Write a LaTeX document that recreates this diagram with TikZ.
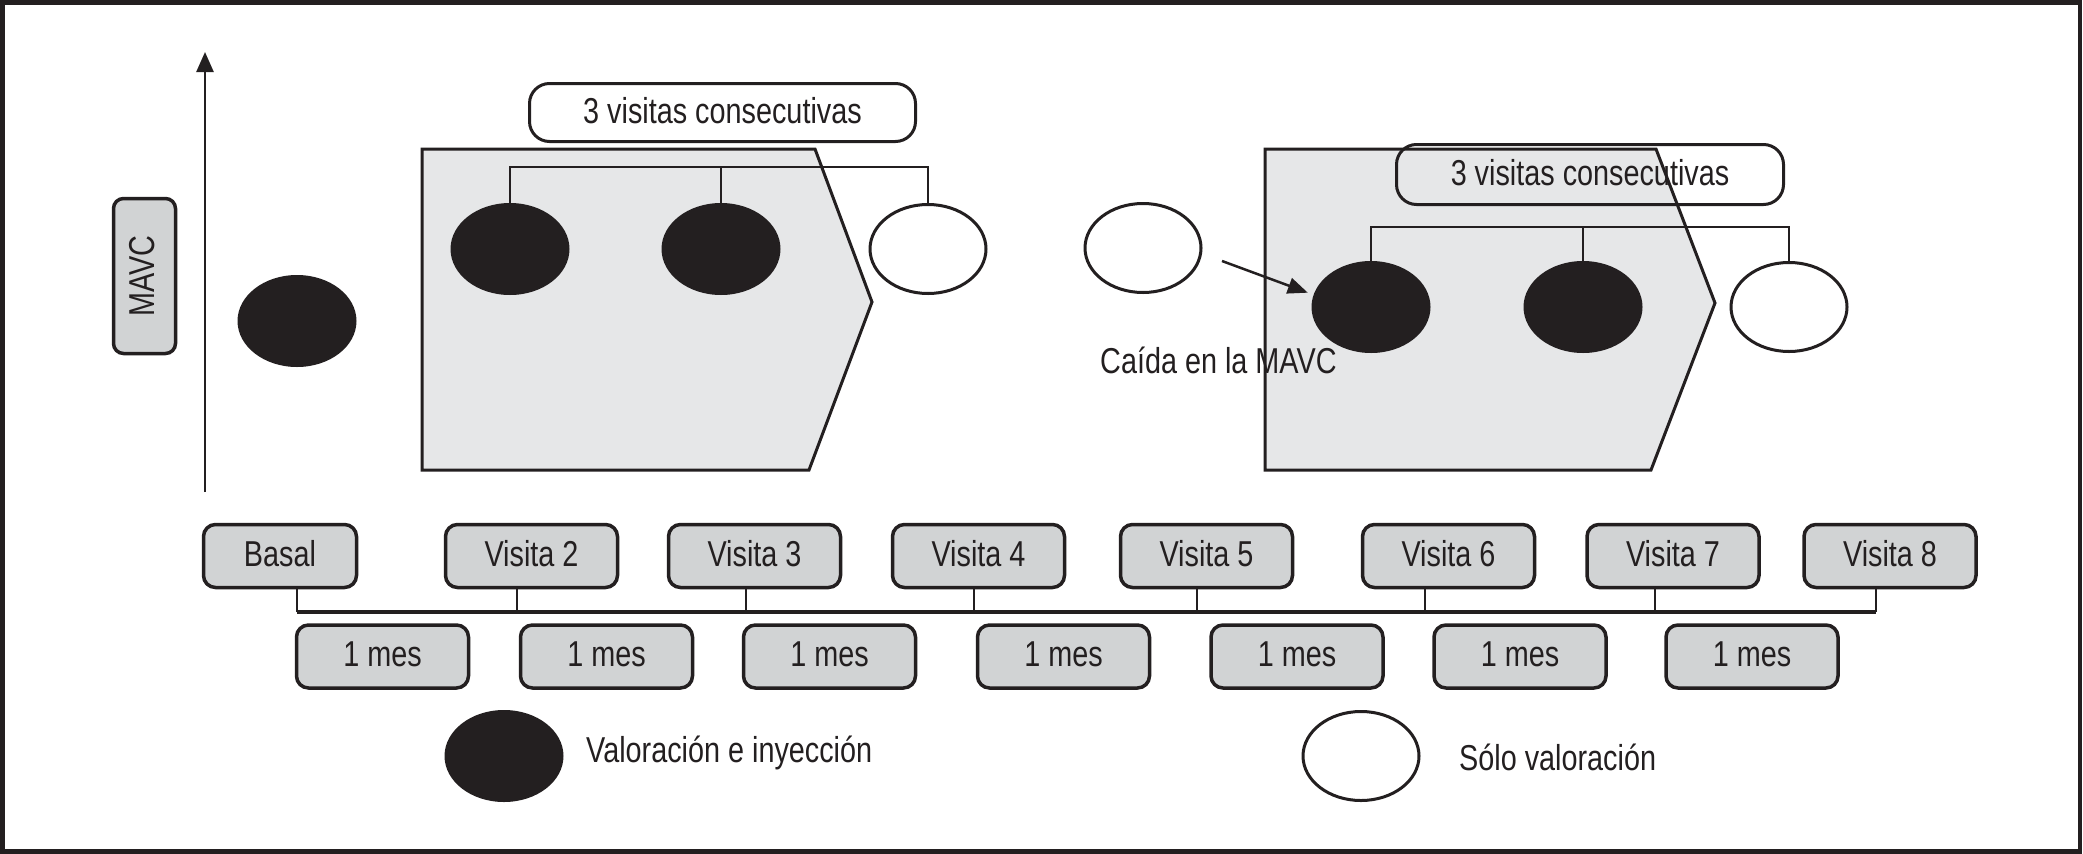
\documentclass[tikz,border=0pt]{standalone}
\usepackage{fontspec}
\setmainfont[FakeStretch=0.8]{Liberation Sans}
\usetikzlibrary{shapes.geometric,arrows.meta}
\definecolor{ink}{HTML}{231F20}
\definecolor{boxgray}{HTML}{D1D3D4}
\definecolor{pentgray}{HTML}{E6E7E8}
\begin{document}
\begin{tikzpicture}[x=1pt,y=-1pt, font=\fontsize{36}{40}\selectfont,
  tbox/.style={draw=ink,line width=3.5pt,fill=boxgray,rounded corners=12pt,inner sep=0pt,minimum width=172pt,minimum height=63pt,text=ink,text height=26pt,text depth=6pt},
  lbox/.style={draw=ink,line width=3pt,rounded corners=20pt,inner sep=0pt,minimum height=58pt,minimum width=386pt,text=ink,text height=26pt,text depth=4pt},
  dot/.style={ellipse,fill=ink,inner sep=0pt,minimum width=119pt,minimum height=92pt},
  ring/.style={ellipse,draw=ink,line width=3pt,fill=white,inner sep=0pt,minimum width=116pt,minimum height=89pt},
  pent/.style={draw=ink,line width=3pt,fill=pentgray,line join=miter},
  link/.style={draw=ink,line width=2.5pt},
  bus/.style={draw=ink,line width=4.5pt},
  lab/.style={inner sep=0pt,anchor=west,text=ink}]
\useasboundingbox (0,0) rectangle (2083,854);
% frame
\draw[ink,line width=4.5pt] (2.5,2.5) rectangle (2080,851.5);
% vertical axis
\coordinate (ax0) at (205,492);
\coordinate (ax1) at (205,52);
\draw[link,-{Triangle[length=20pt,width=17pt]}] (ax0) -- (ax1);
\node[tbox,rotate=90,minimum width=155pt,minimum height=62pt,rounded corners=10pt] (mavc) at (144.5,276) {MAVC};
% basal dot
\node[dot] (d0) at (297,321) {};
% left group
\path[pent] (422,149) -- (815,149) -- (872,302) -- (809,470) -- (422,470) -- cycle;
\node[lbox,fill=white] (lab1) at (722.5,112.5) {3 visitas consecutivas};
\node[dot] (d1) at (510,249) {};
\node[dot] (d2) at (721,249) {};
\node[ring] (r1) at (928,249) {};
\coordinate (brL) at (0,167);
\draw[link] (d1.north) -- (d1.north |- brL) -- (r1.north |- brL) -- (r1.north);
\draw[link] (d2.north) -- (d2.north |- brL);
% lone ring
\node[ring] (r0) at (1143,248) {};
% right group
\path[pent] (1265,149) -- (1656,149) -- (1715,303) -- (1651,470) -- (1265,470) -- cycle;
\node[lbox,minimum width=387pt,minimum height=60pt] (lab2) at (1590,174.5) {3 visitas consecutivas};
\node[dot] (d3) at (1371,307) {};
\node[dot] (d4) at (1583,307) {};
\node[ring] (r2) at (1789,307) {};
\coordinate (brR) at (0,227);
\draw[link] (d3.north) -- (d3.north |- brR) -- (r2.north |- brR) -- (r2.north);
\draw[link] (d4.north) -- (d4.north |- brR);
\coordinate (arS) at (1222,261);
\draw[link,-{Triangle[length=20pt,width=16pt]},shorten >=6pt] (arS) -- (d3.168);
\node[lab] (caida) at (1100,360) {Caída en la MAVC};
% timeline
\node[tbox,minimum width=153pt] (v1) at (280,556) {Basal};
\node[tbox] (v2) at (531.5,556) {Visita 2};
\node[tbox] (v3) at (754.5,556) {Visita 3};
\node[tbox] (v4) at (978.5,556) {Visita 4};
\node[tbox] (v5) at (1206.5,556) {Visita 5};
\node[tbox] (v6) at (1448.5,556) {Visita 6};
\node[tbox] (v7) at (1673,556) {Visita 7};
\node[tbox] (v8) at (1890,556) {Visita 8};
\coordinate (s1) at (297,612);
\coordinate (s2) at (517,612);
\coordinate (s3) at (746,612);
\coordinate (s4) at (974,612);
\coordinate (s5) at (1197,612);
\coordinate (s6) at (1425,612);
\coordinate (s7) at (1655,612);
\coordinate (s8) at (1876,612);
\draw[bus] (s1) -- (s8);
\foreach \i in {1,...,8} {\draw[link] (s\i) -- (s\i |- v\i.south);}
\node[tbox] (m1) at (382.5,656.5) {1 mes};
\node[tbox] (m2) at (606.5,656.5) {1 mes};
\node[tbox] (m3) at (829.5,656.5) {1 mes};
\node[tbox] (m4) at (1063.5,656.5) {1 mes};
\node[tbox] (m5) at (1297,656.5) {1 mes};
\node[tbox] (m6) at (1520,656.5) {1 mes};
\node[tbox] (m7) at (1752,656.5) {1 mes};
% legend
\node[dot] (d5) at (504,756) {};
\node[lab] (leg1) at (586,753) {Valoración e inyección};
\node[ring] (r3) at (1361,756) {};
\node[lab] (leg2) at (1459,757) {Sólo valoración};
\end{tikzpicture}
\end{document}
